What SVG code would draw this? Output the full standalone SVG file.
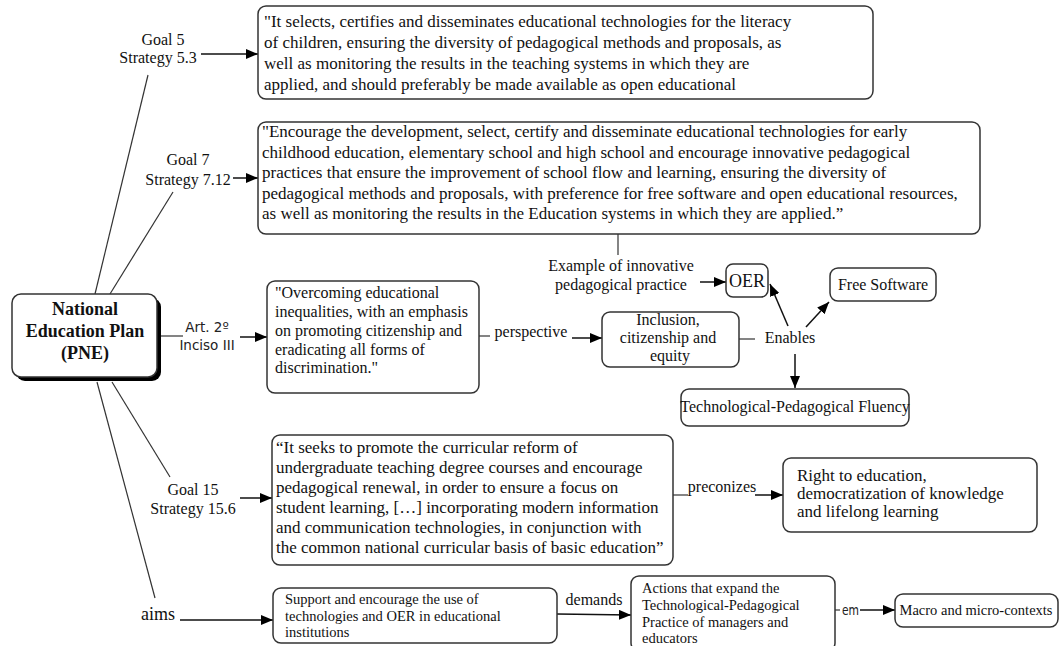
<svg xmlns="http://www.w3.org/2000/svg" width="1060" height="646" viewBox="0 0 1060 646">
<defs>
<marker id="ah" markerUnits="userSpaceOnUse" markerWidth="12" markerHeight="10" refX="12" refY="5" orient="auto">
<path d="M0,0 L12,5 L0,10 z" fill="#000"/>
</marker>
<style>
.box{fill:#fff;stroke:#333;stroke-width:1.5}
.ln{fill:none;stroke:#333;stroke-width:1.2}
.ar{fill:none;stroke:#111;stroke-width:1.5;marker-end:url(#ah)}
.t{font-family:"Liberation Serif","Times New Roman",serif;fill:#111}
.s{font-family:"DejaVu Sans","Liberation Sans",sans-serif;fill:#222}
.c{text-anchor:middle}
</style>
</defs>
<rect width="1060" height="646" fill="#fff"/>

<g id="connectors">
<line class="ln" x1="148" y1="75" x2="95" y2="294"/>
<line class="ln" x1="173" y1="192" x2="110" y2="294"/>
<line class="ln" x1="112" y1="382" x2="170" y2="477"/>
<line class="ln" x1="97" y1="382" x2="155" y2="598"/>
<line class="ln" x1="157" y1="336" x2="183" y2="336"/>
<line class="ar" x1="201" y1="54" x2="258" y2="54"/>
<line class="ar" x1="233" y1="178" x2="258" y2="178"/>
<line class="ar" x1="240" y1="337" x2="267" y2="337"/>
<line class="ar" x1="240" y1="498" x2="272" y2="498"/>
<line class="ar" x1="180" y1="620" x2="273" y2="620"/>
<line class="ln" x1="618" y1="234" x2="618" y2="255"/>
<line class="ar" x1="700" y1="282" x2="726" y2="282"/>
<line class="ln" x1="479" y1="336" x2="490" y2="336"/>
<line class="ar" x1="572" y1="338" x2="602" y2="338"/>
<line class="ln" x1="739" y1="339" x2="755" y2="339"/>
<line class="ar" x1="788" y1="326" x2="770" y2="284"/>
<line class="ar" x1="806" y1="327" x2="829" y2="302"/>
<line class="ar" x1="795" y1="354" x2="795" y2="388"/>
<line class="ln" x1="673" y1="495" x2="688" y2="495"/>
<line class="ar" x1="755" y1="495" x2="783" y2="495"/>
<line class="ar" x1="557" y1="614" x2="631" y2="615"/>
<line class="ln" x1="835" y1="610" x2="840" y2="610"/>
<line class="ar" x1="860" y1="610" x2="895" y2="610"/>
</g>

<g id="labels">
<text class="t c" font-size="16" x="163" y="45">Goal 5</text>
<text class="t c" font-size="16" x="158" y="63">Strategy 5.3</text>
<text class="t c" font-size="16" x="188" y="165">Goal 7</text>
<text class="t c" font-size="16" x="188" y="185">Strategy 7.12</text>
<text class="s c" font-size="13.5" x="207" y="332">Art. 2º</text>
<text class="s c" font-size="13.5" x="207" y="350">Inciso III</text>
<text class="t c" font-size="16" x="193" y="495">Goal 15</text>
<text class="t c" font-size="16" x="193" y="514">Strategy 15.6</text>
<text class="t c" font-size="18" x="158" y="620">aims</text>
<text class="t c" font-size="16" x="621" y="271">Example of innovative</text>
<text class="t c" font-size="16" x="621" y="290">pedagogical practice</text>
<text class="t c" font-size="16" x="531" y="337">perspective</text>
<text class="t c" font-size="16" x="790" y="343">Enables</text>
<text class="t c" font-size="16" x="722" y="492">preconizes</text>
<text class="t c" font-size="16" x="594" y="605">demands</text>
<text class="s" font-size="14" x="842" y="615" textLength="17" lengthAdjust="spacingAndGlyphs">em</text>
</g>

<g id="pne">
<rect x="16" y="298" width="145" height="83" rx="9" fill="#000"/>
<rect class="box" x="12" y="294" width="145" height="83" rx="9"/>
<text class="t c" font-size="18" font-weight="bold" x="85" y="315">National</text>
<text class="t c" font-size="18" font-weight="bold" x="85" y="337">Education Plan</text>
<text class="t c" font-size="18" font-weight="bold" x="85" y="359">(PNE)</text>
</g>

<g id="goal5-box">
<rect class="box" x="258" y="6" width="615" height="93" rx="8"/>
<text class="t" font-size="17" x="264">
<tspan x="264" y="27">"It selects, certifies and disseminates educational technologies for the literacy</tspan>
<tspan x="264" y="48">of children, ensuring the diversity of pedagogical methods and proposals, as</tspan>
<tspan x="264" y="69">well as monitoring the results in the teaching systems in which they are</tspan>
<tspan x="264" y="90">applied, and should preferably be made available as open educational</tspan>
</text>
</g>

<g id="goal7-box">
<rect class="box" x="258" y="122" width="722" height="112" rx="8"/>
<text class="t" font-size="17">
<tspan x="262" y="137">"Encourage the development, select, certify and disseminate educational technologies for early</tspan>
<tspan x="262" y="157.5">childhood education, elementary school and high school and encourage innovative pedagogical</tspan>
<tspan x="262" y="178">practices that ensure the improvement of school flow and learning, ensuring the diversity of</tspan>
<tspan x="262" y="198.5">pedagogical methods and proposals, with preference for free software and open educational resources,</tspan>
<tspan x="262" y="219">as well as monitoring the results in the Education systems in which they are applied.”</tspan>
</text>
</g>

<g id="art2-box">
<rect class="box" x="267" y="281" width="212" height="112" rx="8"/>
<text class="t" font-size="16">
<tspan x="275" y="298">"Overcoming educational</tspan>
<tspan x="275" y="317">inequalities, with an emphasis</tspan>
<tspan x="275" y="336">on promoting citizenship and</tspan>
<tspan x="275" y="354.5">eradicating all forms of</tspan>
<tspan x="275" y="373">discrimination."</tspan>
</text>
</g>

<g id="inclusion-box">
<rect class="box" x="602" y="312" width="137" height="55" rx="8"/>
<text class="t c" font-size="16">
<tspan x="670" y="325">Inclusion,</tspan>
<tspan x="670" y="343">citizenship and</tspan>
<tspan x="670" y="361">equity</tspan>
</text>
</g>

<g id="oer-box">
<rect class="box" x="726" y="264" width="42" height="33" rx="7"/>
<text class="t c" font-size="18" x="747" y="287">OER</text>
</g>

<g id="free-software-box">
<rect class="box" x="830" y="268" width="106" height="33" rx="8"/>
<text class="t c" font-size="16" x="883" y="290">Free Software</text>
</g>

<g id="fluency-box">
<rect class="box" x="681" y="389" width="228" height="37" rx="8"/>
<text class="t c" font-size="16" x="795" y="412">Technological-Pedagogical Fluency</text>
</g>

<g id="goal15-box">
<rect class="box" x="272" y="435" width="401" height="130" rx="8"/>
<text class="t" font-size="17">
<tspan x="276" y="453">“It seeks to promote the curricular reform of</tspan>
<tspan x="276" y="473">undergraduate teaching degree courses and encourage</tspan>
<tspan x="276" y="493">pedagogical renewal, in order to ensure a focus on</tspan>
<tspan x="276" y="513">student learning, […] incorporating modern information</tspan>
<tspan x="276" y="533">and communication technologies, in conjunction with</tspan>
<tspan x="276" y="553">the common national curricular basis of basic education”</tspan>
</text>
</g>

<g id="right-box">
<rect class="box" x="783" y="458" width="254" height="74" rx="8"/>
<text class="t" font-size="17">
<tspan x="797" y="481">Right to education,</tspan>
<tspan x="797" y="499">democratization of knowledge</tspan>
<tspan x="797" y="517">and lifelong learning</tspan>
</text>
</g>

<g id="support-box">
<rect class="box" x="273" y="588" width="284" height="55" rx="8"/>
<text class="t" font-size="14.5">
<tspan x="285" y="604">Support and encourage the use of</tspan>
<tspan x="285" y="621">technologies and OER in educational</tspan>
<tspan x="285" y="637">institutions</tspan>
</text>
</g>

<g id="actions-box">
<rect class="box" x="631" y="576" width="204" height="75" rx="8"/>
<text class="t" font-size="14.5">
<tspan x="642" y="593">Actions that expand the</tspan>
<tspan x="642" y="610">Technological-Pedagogical</tspan>
<tspan x="642" y="627">Practice of managers and</tspan>
<tspan x="642" y="643">educators</tspan>
</text>
</g>

<g id="macro-box">
<rect class="box" x="895" y="594" width="163" height="33" rx="8"/>
<text class="t c" font-size="14.5" x="976" y="615">Macro and micro-contexts</text>
</g>
</svg>
